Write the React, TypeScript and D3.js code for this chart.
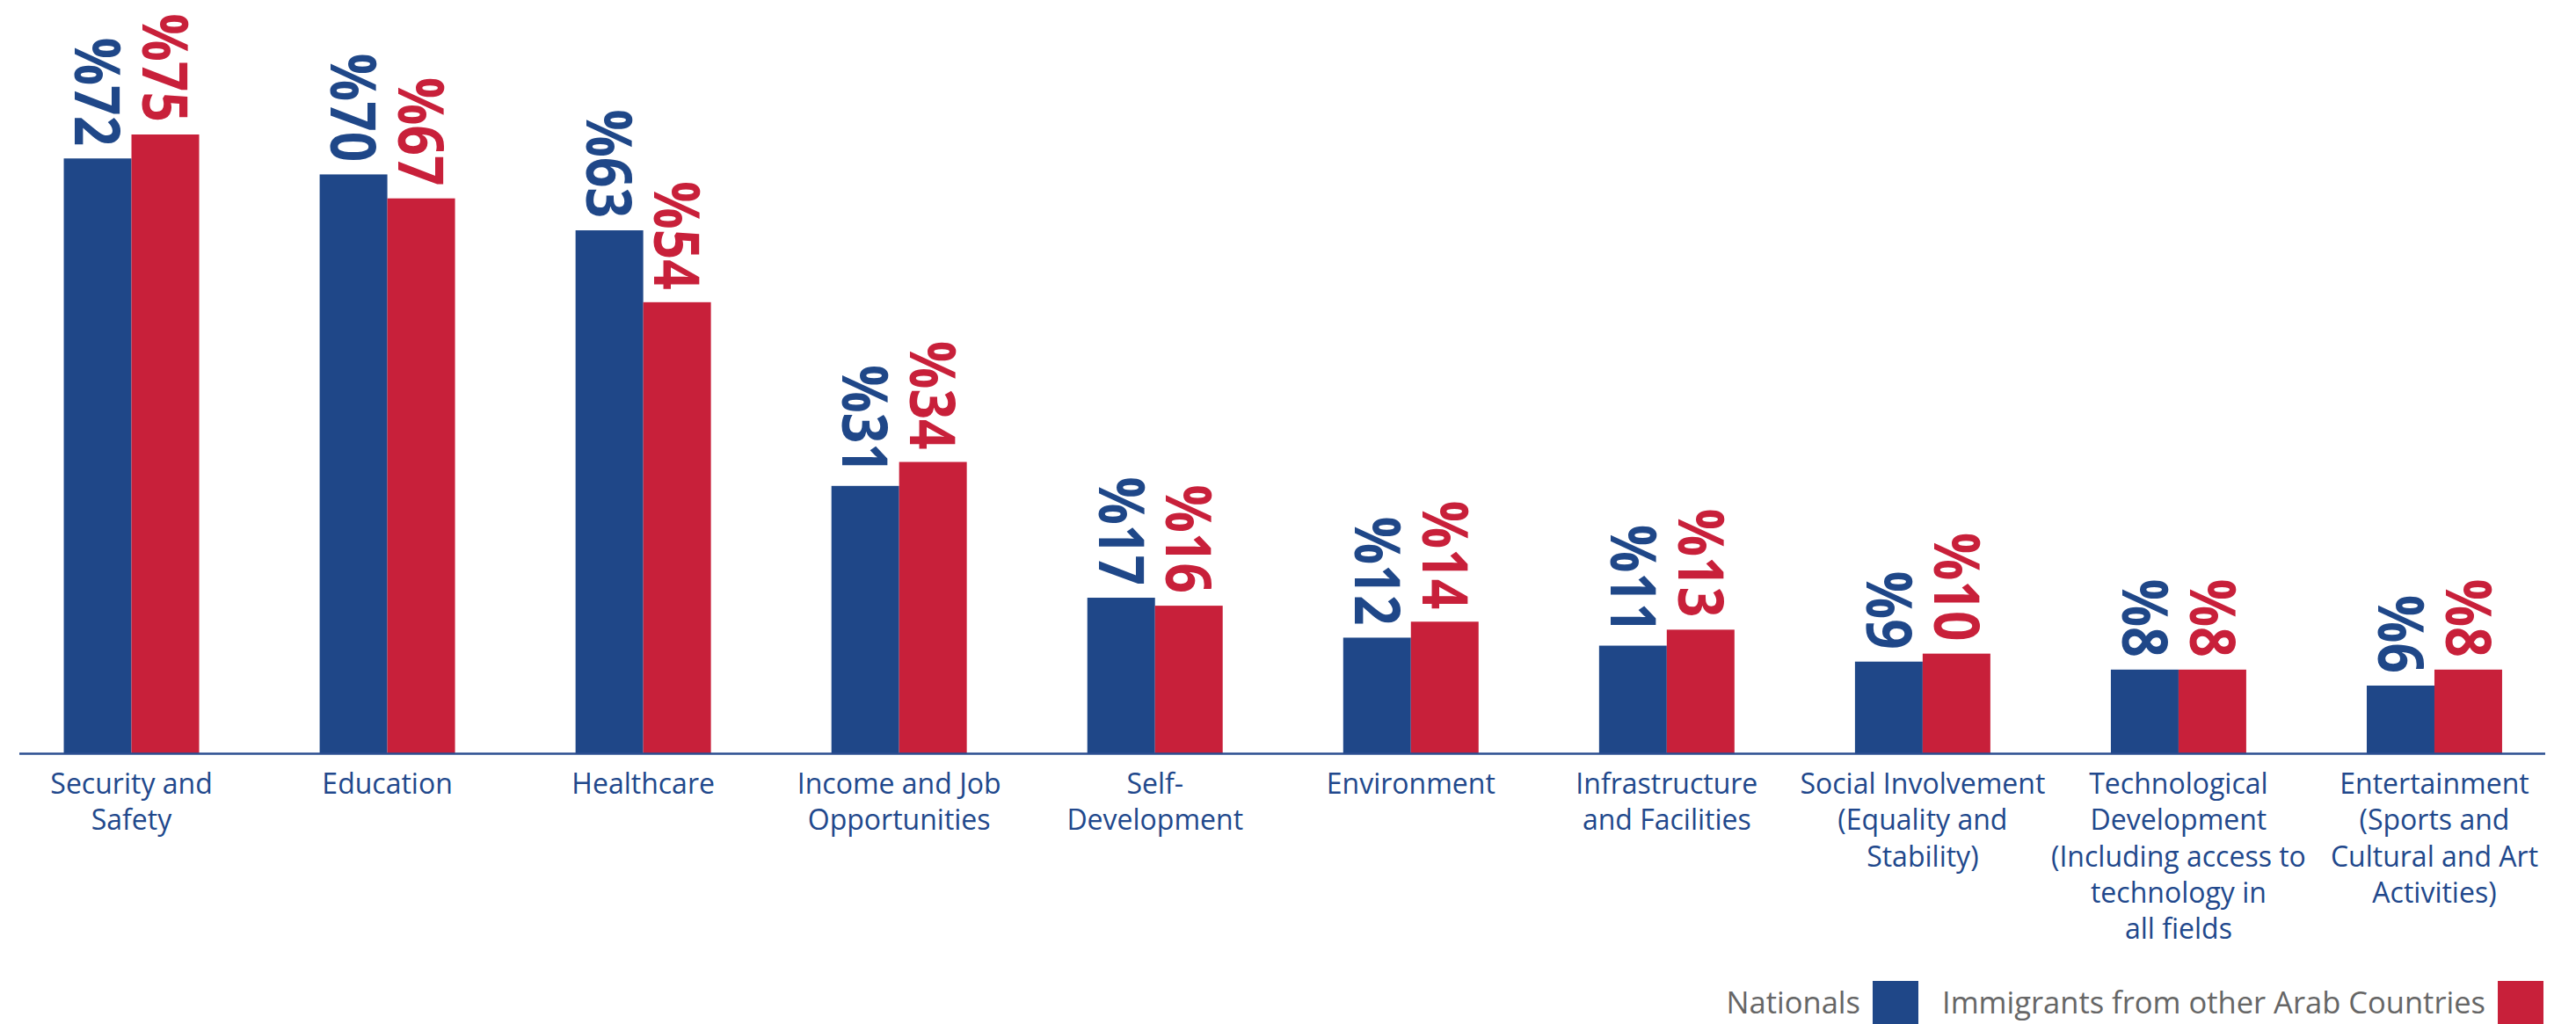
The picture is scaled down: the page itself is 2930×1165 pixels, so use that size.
import React from "react";
import * as d3 from "d3";

const categories: string[][] = [
  ["Security and", "Safety"],
  ["Education"],
  ["Healthcare"],
  ["Income and Job", "Opportunities"],
  ["Self-", "Development"],
  ["Environment"],
  ["Infrastructure", "and Facilities"],
  ["Social Involvement", "(Equality and", "Stability)"],
  ["Technological", "Development", "(Including access to", "technology in", "all fields"],
  ["Entertainment", "(Sports and", "Cultural and Art", "Activities)"],
];
const nationals: number[] = [72, 70, 63, 31, 17, 12, 11, 9, 8, 6];
const immigrants: number[] = [75, 67, 54, 34, 16, 14, 13, 10, 8, 8];
const seriesNames: string[] = ["Nationals", "Immigrants from other Arab Countries"];

const W = 2930;
const H = 1165;
const BLUE = "#1f4788";
const RED = "#c8203a";
const AXIS_Y = 857;

export default function App() {
  const keys = categories.map((c) => c.join(" "));
  const x = d3.scaleBand<string>().domain(keys).range([4, 2914.5]).paddingInner(0.471).paddingOuter(0.2355);
  const x1 = d3.scaleBand<string>().domain(["n", "i"]).range([0, x.bandwidth()]);
  const y = d3.scaleLinear().domain([0, 75]).range([834.5, 153]);

  const series = [
    { key: "n", values: nationals, color: BLUE },
    { key: "i", values: immigrants, color: RED },
  ];

  return (
    <svg width={W} height={H} style={{ position: "absolute", left: 0, top: 0, background: "#fff" }}>
      <rect width={W} height={H} fill="#fff" />
      {series.map((s) =>
        s.values.map((v, i) => {
          const bx = (x(keys[i]) as number) + (x1(s.key) as number);
          const top = y(v);
          return <rect key={s.key + i} x={bx} y={top} width={x1.bandwidth()} height={AXIS_Y + 1 - top} fill={s.color} />;
        })
      )}
      <line x1={22} x2={2895} y1={AXIS_Y + 0.5} y2={AXIS_Y + 0.5} stroke="#2b4e90" strokeWidth={2.5} />
      {series.map((s) =>
        s.values.map((v, i) => {
          const cx = (x(keys[i]) as number) + (x1(s.key) as number) + x1.bandwidth() / 2;
          const ty = y(v) - 14;
          return (
            <text
              key={"l" + s.key + i}
              transform={`translate(${cx},${ty}) rotate(90) scale(0.84,1)`}
              textAnchor="end"
              dy="0.357em"
              fontFamily="'Open Sans', sans-serif"
              fontWeight={700}
              fontSize={72}
              fill={s.color}
            >
              {"%" + v}
            </text>
          );
        })
      )}
      {categories.map((lines, i) => {
        const cx = (x(keys[i]) as number) + x.bandwidth() / 2;
        return (
          <text key={"c" + i} textAnchor="middle" fontFamily="'Open Sans', sans-serif" fontSize={32} fill="#21488c">
            {lines.map((ln, j) => (
              <tspan key={j} x={cx} y={903 + j * 41.3}>
                {ln}
              </tspan>
            ))}
          </text>
        );
      })}
      {/* legend */}
      <g fontFamily="'Open Sans', sans-serif" fontSize={34.5} fill="#666">
        <rect x={2130} y={1116} width={52} height={52} fill={BLUE} />
        <text x={2116} y={1153} textAnchor="end">{seriesNames[0]}</text>
        <rect x={2841} y={1116} width={52} height={52} fill={RED} />
        <text x={2827} y={1153} textAnchor="end">{seriesNames[1]}</text>
      </g>
    </svg>
  );
}
